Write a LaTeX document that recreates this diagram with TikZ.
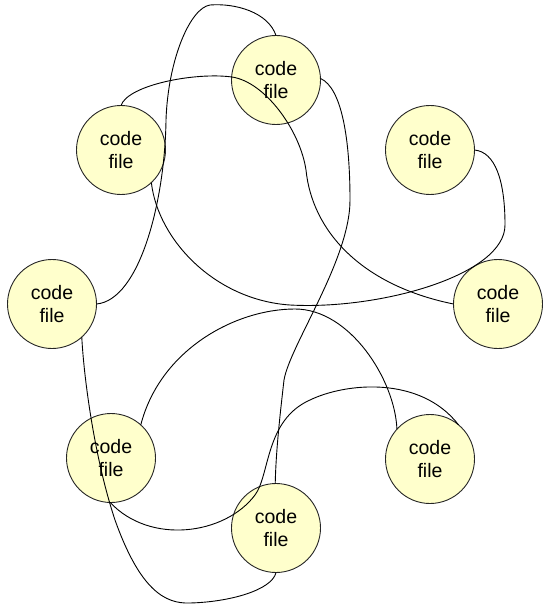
\documentclass[tikz,border=0pt]{standalone}
\usepackage{fontspec}
\setmainfont{Liberation Sans}
\definecolor{filefill}{RGB}{255,255,204}
\begin{document}
\begin{tikzpicture}[x=1pt,y=-1pt,
  codefile/.style={circle, draw=black!85, line width=0.9pt, fill=filefill,
    minimum size=89pt, inner sep=0pt, outer sep=0pt, align=center,
    font=\fontsize{19.5}{23}\selectfont},
  link/.style={draw=black, line width=0.9pt}]
\useasboundingbox (0,0) rectangle (543,604);

% code files
\node[codefile] (n1) at (276,80)  {code\\file};
\node[codefile] (n2) at (121,150) {code\\file};
\node[codefile] (n3) at (430,150) {code\\file};
\node[codefile] (n4) at (52,304)  {code\\file};
\node[codefile] (n5) at (498,304) {code\\file};
\node[codefile] (n6) at (111,458) {code\\file};
\node[codefile] (n7) at (430,459) {code\\file};
\node[codefile] (n8) at (276,528) {code\\file};

% links between files
\draw[link] (n1.90) .. controls (268,12) and (235,3) .. (210,5)
  .. controls (190,8) and (168,60) .. (166,120)
  .. controls (165,200) and (140,300) .. (n4.0);

\draw[link] (n2.90) .. controls (128,85) and (195,72) .. (232,77)
  .. controls (265,82) and (300,130) .. (306,170)
  .. controls (312,230) and (360,285) .. (n5.180);

\draw[link] (n2.-47) .. controls (158,240) and (215,300) .. (290,305)
  .. controls (380,310) and (505,275) .. (505,225)
  .. controls (505,180) and (495,152) .. (n3.0);

\draw[link] (n6.48) .. controls (160,350) and (235,309) .. (295,309)
  .. controls (350,309) and (395,380) .. (n7.138);

\draw[link] (n6.-91) .. controls (150,545) and (225,535) .. (255,495)
  .. controls (270,475) and (265,420) .. (310,400)
  .. controls (345,383) and (420,375) .. (n7.50);

\draw[link] (n1.2) .. controls (342,88) and (350,140) .. (350,200)
  .. controls (350,260) and (290,345) .. (284,380)
  .. controls (280,415) and (276,450) .. (n8.91);

\draw[link] (n4.-48) .. controls (84,380) and (95,460) .. (115,520)
  .. controls (140,590) and (165,604) .. (190,603)
  .. controls (230,602) and (272,590) .. (n8.-90);
\end{tikzpicture}
\end{document}
